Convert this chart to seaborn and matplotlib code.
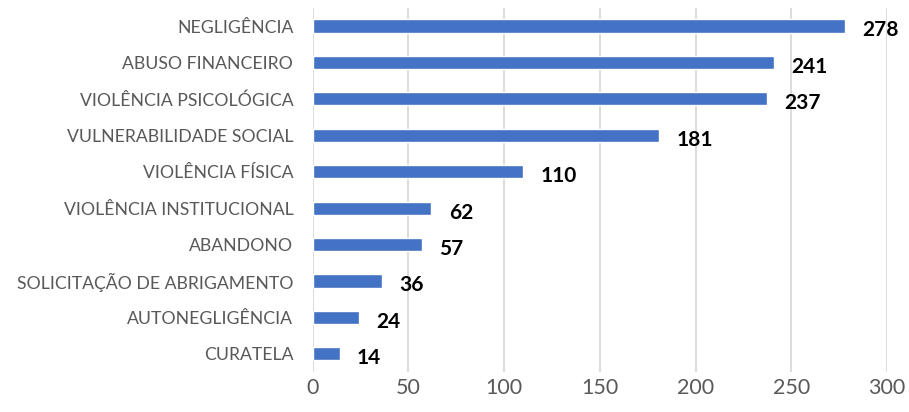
import pandas as pd
import matplotlib
matplotlib.use('Agg')
import matplotlib.pyplot as plt
import seaborn as sns

# Data
categorias = ['NEGLIGÊNCIA', 'ABUSO FINANCEIRO', 'VIOLÊNCIA PSICOLÓGICA',
              'VULNERABILIDADE SOCIAL', 'VIOLÊNCIA FÍSICA', 'VIOLÊNCIA INSTITUCIONAL',
              'ABANDONO', 'SOLICITAÇÃO DE ABRIGAMENTO', 'AUTONEGLIGÊNCIA', 'CURATELA']
valores = [278, 241, 237, 181, 110, 62, 57, 36, 24, 14]
x_ticks = [0, 50, 100, 150, 200, 250, 300]

df = pd.DataFrame({'categoria': categorias, 'valor': valores})

sns.set_style('white')
plt.rcParams['font.family'] = ['Lato', 'DejaVu Sans']

fig, ax = plt.subplots(figsize=(9.09, 4.12), dpi=100)
fig.subplots_adjust(left=0.344, right=0.976, top=0.981, bottom=0.097)

sns.barplot(data=df, y='categoria', x='valor', orient='h', color='#4472C4',
            saturation=1, width=0.36, ax=ax, zorder=3)

for i, v in enumerate(valores):
    ax.text(v + 9, i + 0.12, str(v), va='center', ha='left',
            fontsize=15, fontweight='bold', color='black')

ax.set_xlim(0, 300)
ax.set_xticks(x_ticks)
ax.set_ylim(9.5, -0.5)
ax.grid(True, axis='x', color='#D9D9D9', linewidth=1.3, zorder=0)
ax.set_axisbelow(True)
for s in ax.spines.values():
    s.set_visible(False)
ax.tick_params(axis='both', length=0)
ax.tick_params(axis='x', labelsize=15.5, colors='#595959', pad=4)
ax.tick_params(axis='y', labelsize=12.7, colors='#595959', pad=14)
ax.set_xlabel('')
ax.set_ylabel('')

plt.savefig('out.png', dpi=100)
